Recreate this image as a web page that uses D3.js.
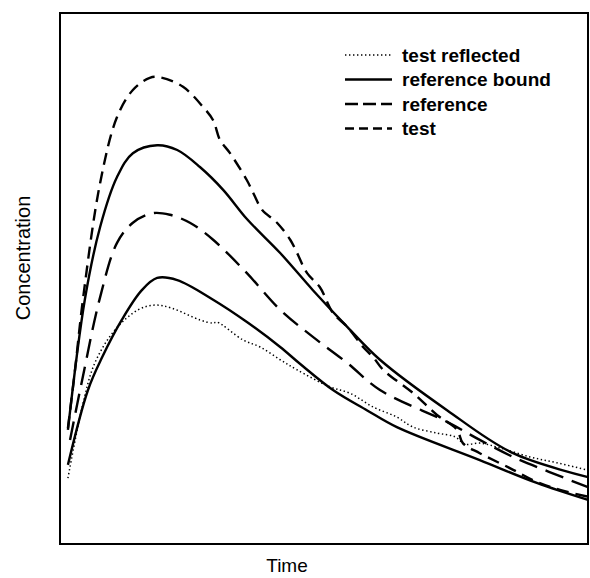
<!DOCTYPE html>
<html lang="en">
<head>
    <meta charset="UTF-8">
    <title>Concentration vs Time</title>
    <script src="https://d3js.org/d3.v7.min.js"></script>
    <style>
        body { margin: 0; padding: 0; background: white; }
        svg { display: block; }
        text { font-family: "Liberation Sans", Arial, sans-serif; fill: #000; }
    </style>
</head>
<body>
    <svg id="chart" width="590" height="578"></svg>

    <script>
        // curves (time and concentration in arbitrary units)
        let testT = [1.5, 2.8, 4.4, 7.6, 10.8, 13.8, 17.0, 18.9, 23.3, 27.1, 29.0, 30.3, 32.2, 35.4, 36.6, 38.3, 41.1, 43.6, 44.9, 46.8, 49.2, 51.7, 54.4, 57.4, 59.3, 61.2, 66.9, 71.4, 75.2, 76.3, 79.5, 85.2, 90.3, 94.7, 100];
        let testC = [21.8, 32.4, 46.5, 68.0, 80.4, 85.5, 87.8, 87.9, 86.1, 82.3, 79.8, 76.1, 73.6, 68.5, 66.1, 62.9, 60.5, 57.3, 54.8, 51.0, 48.4, 43.5, 40.9, 37.1, 35.2, 32.8, 28.4, 24.3, 21.5, 19.0, 17.1, 14.3, 11.7, 10.2, 8.9];

        let upperT = [1.5, 4.7, 7.6, 10.8, 13.8, 18.4, 22.2, 26.5, 30.9, 35.4, 41.7, 47.9, 54.4, 60.6, 73.3, 85.8, 100];
        let upperC = [21.5, 46.0, 59.7, 69.1, 73.6, 75.1, 74.2, 71.0, 66.7, 61.2, 54.8, 47.8, 40.9, 34.7, 25.2, 17.1, 12.6];

        let refT = [1.9, 4.2, 7.6, 10.8, 13.8, 17.6, 20.8, 24.6, 29.0, 35.4, 41.7, 47.9, 54.4, 60.6, 73.3, 79.5, 85.8, 92.6, 100];
        let refC = [19.6, 30.9, 46.5, 56.7, 60.5, 62.3, 62.0, 60.5, 57.3, 51.0, 44.1, 39.0, 34.1, 29.0, 23.0, 19.6, 16.4, 13.6, 10.7];

        let lowerT = [1.5, 5.3, 8.0, 11.7, 15.5, 18.4, 22.2, 29.0, 35.4, 41.7, 45.5, 51.7, 58.1, 63.8, 79.5, 90.3, 100];
        let lowerC = [14.9, 29.0, 35.2, 42.2, 47.8, 50.1, 49.7, 46.0, 41.8, 37.1, 33.9, 29.0, 25.2, 22.0, 15.8, 11.5, 8.3];

        let reflT = [1.5, 4.2, 6.6, 10.4, 14.8, 18.0, 21.2, 26.5, 29.0, 29.7, 34.7, 37.9, 41.7, 44.9, 51.1, 54.9, 59.3, 63.8, 66.9, 71.4, 74.8, 76.7, 79.5, 83.3, 89.0, 94.1, 100];
        let reflC = [12.4, 25.8, 34.1, 40.3, 44.1, 45.0, 44.4, 42.2, 41.6, 41.8, 38.4, 37.1, 34.7, 32.8, 29.6, 28.4, 25.8, 23.9, 22.0, 20.9, 20.2, 18.8, 19.0, 18.1, 16.4, 15.3, 13.9];

        let legendLabels = ["test reflected", "reference bound", "reference", "test"];

        let svg = d3.select("#chart");
        let plotLeft = 60, plotTop = 13, plotRight = 588, plotBottom = 544;

        let x = d3.scaleLinear().domain([0, 100]).range([plotLeft, plotRight]);
        let y = d3.scaleLinear().domain([0, 100]).range([plotBottom, plotTop]);

        let styles = {
            refl:  { width: 1.5, dash: "1.4,2.6", legendDash: "1.4,2.6" },
            bound: { width: 2.4, dash: null, legendDash: null },
            ref:   { width: 2.4, dash: "19,9", legendDash: "13,5" },
            test:  { width: 2.4, dash: "12,7", legendDash: "9,5" }
        };

        let line = d3.line()
            .x(d => x(d[0]))
            .y(d => y(d[1]))
            .curve(d3.curveCatmullRom.alpha(0.5));

        function drawSeries(ts, cs, st) {
            let pts = ts.map((t, i) => [t, cs[i]]);
            svg.append("path")
                .attr("d", line(pts))
                .attr("fill", "none")
                .attr("stroke", "#000")
                .attr("stroke-width", st.width)
                .attr("stroke-dasharray", st.dash);
        }

        drawSeries(reflT, reflC, styles.refl);
        drawSeries(upperT, upperC, styles.bound);
        drawSeries(lowerT, lowerC, styles.bound);
        drawSeries(refT, refC, styles.ref);
        drawSeries(testT, testC, styles.test);

        // frame
        svg.append("rect")
            .attr("x", plotLeft).attr("y", plotTop)
            .attr("width", plotRight - plotLeft).attr("height", plotBottom - plotTop)
            .attr("fill", "none")
            .attr("stroke", "#000")
            .attr("stroke-width", 2);

        // legend
        let legendStyles = [styles.refl, styles.bound, styles.ref, styles.test];
        legendLabels.forEach((lab, i) => {
            let ly = 55 + i * 24.5;
            let st = legendStyles[i];
            svg.append("line")
                .attr("x1", 345).attr("x2", 392)
                .attr("y1", ly).attr("y2", ly)
                .attr("stroke", "#000")
                .attr("stroke-width", st.width)
                .attr("stroke-dasharray", st.legendDash);
            svg.append("text")
                .attr("x", 402).attr("y", ly + 6.5)
                .attr("font-size", "19px")
                .attr("font-weight", "bold")
                .text(lab);
        });

        // axis titles
        svg.append("text")
            .attr("x", 287).attr("y", 572)
            .attr("text-anchor", "middle")
            .attr("font-size", "19px")
            .text("Time");

        svg.append("text")
            .attr("transform", "translate(30,258) rotate(-90)")
            .attr("text-anchor", "middle")
            .attr("font-size", "20px")
            .text("Concentration");
    </script>
</body>
</html>
